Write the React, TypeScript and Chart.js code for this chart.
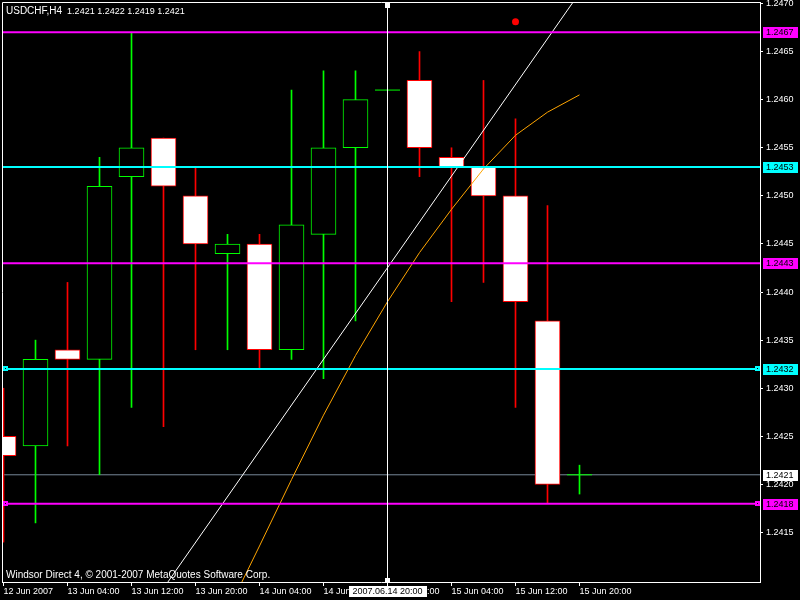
import React, { useEffect, useRef } from 'react';
import { Chart, registerables } from 'chart.js';

Chart.register(...registerables);

// ---- market data (USDCHF, 4-hour bars, 12 Jun 20:00 .. 15 Jun 20:00) ----
const symbol = 'USDCHF,H4';
const opens = [1.2425, 1.2424, 1.2434, 1.2433, 1.2452, 1.2456, 1.245, 1.2444, 1.2445, 1.2434, 1.2446, 1.2455, 1.2461, 1.2462, 1.2454, 1.2453, 1.245, 1.2437, 1.2421];
const highs = [1.243, 1.2435, 1.2441, 1.2454, 1.2467, 1.2456, 1.2453, 1.2446, 1.2446, 1.2461, 1.2463, 1.2463, 1.2461, 1.2465, 1.2455, 1.2462, 1.2458, 1.2449, 1.2422];
const lows = [1.2414, 1.2416, 1.2424, 1.2421, 1.2428, 1.2426, 1.2434, 1.2434, 1.2432, 1.2433, 1.2431, 1.2437, 1.2461, 1.2452, 1.2439, 1.2441, 1.2428, 1.2418, 1.2419];
const closes = [1.2423, 1.2433, 1.2433, 1.2451, 1.2455, 1.2451, 1.2445, 1.2445, 1.2434, 1.2447, 1.2455, 1.246, 1.2461, 1.2455, 1.2453, 1.245, 1.2439, 1.242, 1.2421];

// time axis labels, one every second bar
const xTickIndices = [0, 2, 4, 6, 8, 10, 12, 14, 16, 18];
const xTickLabels = ['12 Jun 2007', '13 Jun 04:00', '13 Jun 12:00', '13 Jun 20:00', '14 Jun 04:00', '14 Jun 12:00', '14 Jun 20:00', '15 Jun 04:00', '15 Jun 12:00', '15 Jun 20:00'];

// price axis labels
const yTickValues = [1.2415, 1.242, 1.2425, 1.243, 1.2435, 1.244, 1.2445, 1.245, 1.2455, 1.246, 1.2465, 1.247];

// horizontal support / resistance levels
const levelPrices = [1.2467, 1.2453, 1.2443, 1.2432, 1.2418];
const levelColors = ['#ff00ff', '#00ffff', '#ff00ff', '#00ffff', '#ff00ff'];
const levelSelected = [false, false, false, true, true];

// moving average
const maIndices = [7, 8, 9, 10, 11, 12, 13, 14, 15, 16, 17, 18];
const maValues = [1.24068, 1.24136, 1.24205, 1.24272, 1.24334, 1.2439, 1.24441, 1.24486, 1.24528, 1.24563, 1.24587, 1.24605];

// trend line anchors
const trendIndices = [5, 18];
const trendPrices = [1.24092, 1.24711];

// arrow marker
const markerIndices = [16];
const markerPrices = [1.24681];

// crosshair
const crossIndex = 12;
const crossLabel = '2007.06.14 20:00';

const copyright = 'Windsor Direct 4, \u00a9 2001-2007 MetaQuotes Software Corp.';

const FONT = '"Liberation Sans", Arial, sans-serif';
const BULL = '#00ff00';
const BEAR = '#ff0000';

export default function App() {
  const canvasRef = useRef<HTMLCanvasElement>(null);

  useEffect(() => {
    const canvas = canvasRef.current;
    if (!canvas) return;

    const idx = opens.map((_, i) => i);
    const isBull = idx.map((i) => closes[i] >= opens[i]);
    const bodyIdx = idx.filter((i) => opens[i] !== closes[i]);
    const dojiIdx = idx.filter((i) => opens[i] === closes[i]);
    const last = opens.length - 1;
    const bid = closes[last];

    const xMin = -0.046875;
    const xMax = 23.640625;
    const yMin = 1.2409854;
    const yMax = 1.2470156;

    const datasets: any[] = [];

    // candle wicks
    datasets.push({
      type: 'bar',
      data: idx.map((i) => ({ x: i, y: [lows[i], highs[i]] })),
      backgroundColor: idx.map((i) => (isBull[i] ? BULL : BEAR)),
      borderWidth: 0,
      barThickness: 1,
      grouped: false,
      order: 6,
      clip: 0,
    });

    // candle bodies
    datasets.push({
      type: 'bar',
      data: bodyIdx.map((i) => ({ x: i, y: [opens[i], closes[i]] })),
      backgroundColor: bodyIdx.map((i) => (isBull[i] ? '#000000' : '#ffffff')),
      borderColor: bodyIdx.map((i) => (isBull[i] ? BULL : BEAR)),
      borderWidth: 1,
      borderSkipped: false,
      barThickness: 25,
      grouped: false,
      order: 5,
      clip: 0,
    });

    // doji bars (open == close)
    datasets.push({
      type: 'line',
      showLine: false,
      data: dojiIdx.map((i) => ({ x: i, y: opens[i] })),
      pointStyle: 'line',
      pointRadius: 12.5,
      pointBorderColor: BULL,
      pointBorderWidth: 1,
      order: 4,
      clip: 0,
    });

    // bid line
    datasets.push({
      type: 'line',
      data: [
        { x: xMin, y: bid },
        { x: xMax, y: bid },
      ],
      borderColor: '#778899',
      borderWidth: 1,
      pointRadius: 0,
      order: 7,
      clip: 0,
    });

    // level lines
    levelPrices.forEach((p, k) => {
      datasets.push({
        type: 'line',
        data: [
          { x: xMin, y: p },
          { x: xMax, y: p },
        ],
        borderColor: levelColors[k],
        borderWidth: 2,
        pointRadius: 0,
        order: 1,
        clip: 0,
      });
    });

    // moving average
    datasets.push({
      type: 'line',
      data: maIndices.map((x, k) => ({ x, y: maValues[k] })),
      borderColor: '#ffa500',
      borderWidth: 1,
      pointRadius: 0,
      tension: 0,
      order: 2,
      clip: 0,
    });

    // trend line
    datasets.push({
      type: 'line',
      data: trendIndices.map((x, k) => ({ x, y: trendPrices[k] })),
      borderColor: '#ffffff',
      borderWidth: 1,
      pointRadius: 0,
      order: 3,
      clip: 0,
    });

    // arrow marker
    datasets.push({
      type: 'line',
      showLine: false,
      data: markerIndices.map((x, k) => ({ x, y: markerPrices[k] })),
      pointRadius: 3.5,
      pointBackgroundColor: '#ff0000',
      pointBorderWidth: 0,
      order: 0,
      clip: 0,
    });

    const terminalOverlay = {
      id: 'terminalOverlay',
      afterDatasetsDraw(chart: any) {
        const { ctx, chartArea, scales } = chart;
        const xs = scales.x;
        const ys = scales.y;
        ctx.save();
        // crosshair
        const cx = xs.getPixelForValue(crossIndex);
        ctx.strokeStyle = '#ffffff';
        ctx.lineWidth = 1;
        ctx.beginPath();
        ctx.moveTo(cx, chartArea.top);
        ctx.lineTo(cx, chartArea.bottom);
        ctx.stroke();
        ctx.fillStyle = '#ffffff';
        ctx.fillRect(cx - 2.5, chartArea.top + 1, 5, 5);
        ctx.fillRect(cx - 2.5, chartArea.bottom - 4, 5, 5);
        // handles on selected levels
        levelPrices.forEach((p, k) => {
          if (!levelSelected[k]) return;
          const py = Math.round(ys.getPixelForValue(p));
          [chartArea.left + 1, chartArea.right - 5].forEach((hx) => {
            ctx.fillStyle = levelColors[k];
            ctx.fillRect(hx, py - 3, 5, 5);
            ctx.fillStyle = '#000000';
            ctx.fillRect(hx + 2, py - 1, 1, 1);
          });
        });
        ctx.restore();
      },
      afterDraw(chart: any) {
        const { ctx, chartArea, scales } = chart;
        const xs = scales.x;
        const ys = scales.y;
        ctx.save();
        // chart frame (left and top)
        ctx.strokeStyle = '#ffffff';
        ctx.lineWidth = 1;
        ctx.beginPath();
        ctx.moveTo(chartArea.left + 0.5, chartArea.bottom);
        ctx.lineTo(chartArea.left + 0.5, chartArea.top + 0.5);
        ctx.lineTo(chartArea.right, chartArea.top + 0.5);
        ctx.stroke();

        const f = (v: number) => v.toFixed(4);
        ctx.textBaseline = 'alphabetic';
        ctx.textAlign = 'left';
        ctx.fillStyle = '#ffffff';
        // header: symbol and last bar OHLC
        ctx.font = `10px ${FONT}`;
        const hx = chartArea.left + 4;
        const hy = chartArea.top + 12;
        ctx.fillText(symbol, hx, hy);
        const sw = ctx.measureText(symbol).width;
        ctx.font = `9px ${FONT}`;
        ctx.fillText(`${f(opens[last])} ${f(highs[last])} ${f(lows[last])} ${f(closes[last])}`, hx + sw + 5, hy);
        // footer
        ctx.font = `10px ${FONT}`;
        ctx.fillText(copyright, chartArea.left + 4, chartArea.bottom - 4);

        // price boxes on the axis
        ctx.font = `9px ${FONT}`;
        const boxes = levelPrices.map((p, k) => ({ p, c: levelColors[k] }));
        boxes.push({ p: bid, c: '#ffffff' });
        ctx.textBaseline = 'middle';
        boxes.forEach(({ p, c }) => {
          const py = ys.getPixelForValue(p);
          ctx.fillStyle = c;
          ctx.fillRect(chartArea.right + 3, Math.round(py) - 5, 35, 11);
          ctx.fillStyle = '#000000';
          ctx.fillText(f(p), chartArea.right + 6, Math.round(py) + 0.5);
        });

        // crosshair time label
        const cx = xs.getPixelForValue(crossIndex);
        ctx.fillStyle = '#ffffff';
        ctx.fillRect(Math.round(cx) - 39, chartArea.bottom + 4, 78, 11);
        ctx.fillStyle = '#000000';
        ctx.textAlign = 'center';
        ctx.fillText(crossLabel, cx, chartArea.bottom + 10);
        ctx.restore();
      },
    };

    const chart = new Chart(canvas, {
      type: 'bar',
      data: { datasets },
      options: {
        responsive: false,
        animation: false,
        events: [],
        layout: { autoPadding: false, padding: { left: 2, top: 2, right: 0, bottom: 0 } },
        plugins: {
          legend: { display: false },
          tooltip: { enabled: false },
        },
        scales: {
          x: {
            type: 'linear',
            position: 'bottom',
            min: xMin,
            max: xMax,
            offset: false,
            grid: { drawOnChartArea: false, color: '#ffffff', tickLength: 4, offset: false },
            border: { display: true, color: '#ffffff', width: 1 },
            ticks: {
              color: '#ffffff',
              font: { family: FONT, size: 9 },
              align: 'start',
              autoSkip: false,
              maxRotation: 0,
              padding: 0,
              callback: (v: any) => {
                const k = xTickIndices.indexOf(Number(v));
                return k >= 0 ? xTickLabels[k] : '';
              },
            },
            afterBuildTicks: (s: any) => {
              s.ticks = xTickIndices.map((v) => ({ value: v }));
            },
            afterFit: (s: any) => {
              s.height = 18;
              s.paddingLeft = 0;
              s.paddingRight = 0;
            },
          },
          y: {
            type: 'linear',
            position: 'right',
            min: yMin,
            max: yMax,
            beginAtZero: false,
            grid: { drawOnChartArea: false, color: '#ffffff', tickLength: 3 },
            border: { display: true, color: '#ffffff', width: 1 },
            ticks: {
              color: '#ffffff',
              font: { family: FONT, size: 9 },
              padding: 3,
              callback: (v: any) => Number(v).toFixed(4),
            },
            afterBuildTicks: (s: any) => {
              s.ticks = yTickValues.map((v) => ({ value: v }));
            },
            afterFit: (s: any) => {
              s.width = 40;
              s.paddingTop = 0;
              s.paddingBottom = 0;
            },
          },
        },
      } as any,
      plugins: [terminalOverlay],
    });

    return () => chart.destroy();
  }, []);

  return (
    <div style={{ position: 'absolute', left: 0, top: 0, width: 800, height: 600, background: '#000000' }}>
      <canvas ref={canvasRef} width={800} height={600} style={{ display: 'block' }} />
    </div>
  );
}
